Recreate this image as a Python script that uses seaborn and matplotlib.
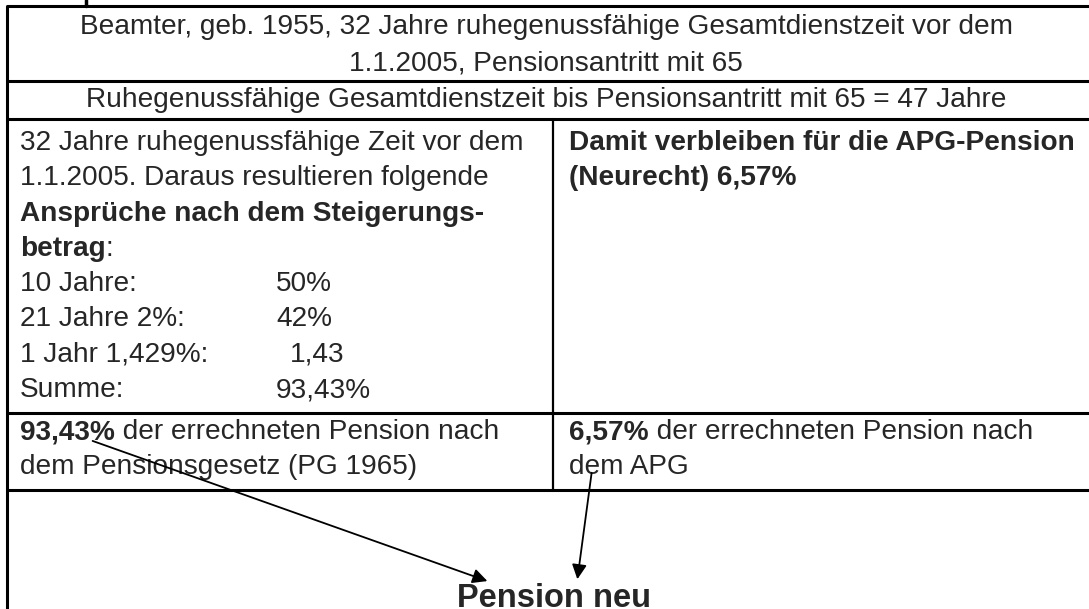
import seaborn as sns
import matplotlib.pyplot as plt

sns.set_theme(style="white")
plt.rcParams['font.family'] = ['Liberation Sans', 'DejaVu Sans']

# table texts
head_lines = ["Beamter, geb. 1955, 32 Jahre ruhegenussfähige Gesamtdienstzeit vor dem",
              "1.1.2005, Pensionsantritt mit 65"]
row2_text = "Ruhegenussfähige Gesamtdienstzeit bis Pensionsantritt mit 65 = 47 Jahre"
left_intro = ["32 Jahre ruhegenussfähige Zeit vor dem",
              "1.1.2005. Daraus resultieren folgende"]
left_bold = "Ansprüche nach dem Steigerungs-"
calc_labels = ["10 Jahre:", "21 Jahre 2%:", "1 Jahr 1,429%:", "Summe:"]
calc_values = ["50%", "42%", "1,43", "93,43%"]
right_bold = ["Damit verbleiben für die APG-Pension", "(Neurecht) 6,57%"]
old_share = "93,43%"
new_share = "6,57%"
old_rest = [" der errechneten Pension nach", "dem Pensionsgesetz (PG 1965)"]
new_rest = [" der errechneten Pension nach", "dem APG"]
result = "Pension neu"

W, H = 1089, 609
fig = plt.figure(figsize=(W / 100, H / 100), dpi=100)
ax = fig.add_axes([0, 0, 1, 1])
ax.set_xlim(0, W)
ax.set_ylim(H, 0)
ax.axis('off')

fs = 20.2
lw = 2.2
left, right = 7, 1100
rows = [6, 81, 119, 413, 490]
mid = 553

# borders
for y in rows:
    ax.plot([left, right], [y, y], color='black', lw=lw, solid_capstyle='butt')
ax.plot([left, left], [rows[0], H + 5], color='black', lw=lw)
ax.plot([mid, mid], [rows[2], rows[4]], color='black', lw=1.6)
ax.plot([86, 86], [0, rows[0]], color='black', lw=2.5)

cx = 546
ax.text(cx, 27, head_lines[0], ha='center', va='center', fontsize=fs)
ax.text(cx, 63, head_lines[1], ha='center', va='center', fontsize=fs)
ax.text(cx, 100, row2_text, ha='center', va='center', fontsize=fs)

fig.canvas.draw()
rend = fig.canvas.get_renderer()
inv = ax.transData.inverted()


def run(x, y, parts):
    # parts: list of (text, bold)
    for s, b in parts:
        t = ax.text(x, y, s, ha='left', va='center', fontsize=fs,
                    fontweight='bold' if b else 'normal')
        bb = t.get_window_extent(renderer=rend)
        x = inv.transform((bb.x1, bb.y0))[0]


lx, rx = 20, 569
step = 35.3
y0 = 143
run(lx, y0, [(left_intro[0], False)])
run(lx, y0 + step, [(left_intro[1], False)])
run(lx, y0 + 2 * step, [(left_bold, True)])
run(lx, y0 + 3 * step, [("betrag", True), (":", False)])
val_x = [276, 276, 290, 276]
for i, (lab, val) in enumerate(zip(calc_labels, calc_values)):
    yy = y0 + (4 + i) * step
    ax.text(lx, yy, lab, ha='left', va='center', fontsize=fs)
    ax.text(val_x[i], yy, val, ha='left', va='center', fontsize=fs)

run(rx, y0, [(right_bold[0], True)])
run(rx, y0 + step, [(right_bold[1], True)])

run(lx, 432, [(old_share, True), (old_rest[0], False)])
run(lx, 467, [(old_rest[1], False)])
run(rx, 432, [(new_share, True), (new_rest[0], False)])
run(rx, 467, [(new_rest[1], False)])

ax.text(554, 607, result, ha='center', va='baseline', fontsize=23.5, fontweight='bold')

arrow = dict(arrowstyle='-|>', color='black', lw=1.3, mutation_scale=22)
ax.annotate('', xy=(490, 582), xytext=(90, 440), arrowprops=arrow)
ax.annotate('', xy=(577, 582), xytext=(592, 470), arrowprops=arrow)

fig.savefig('out.png', dpi=100)
